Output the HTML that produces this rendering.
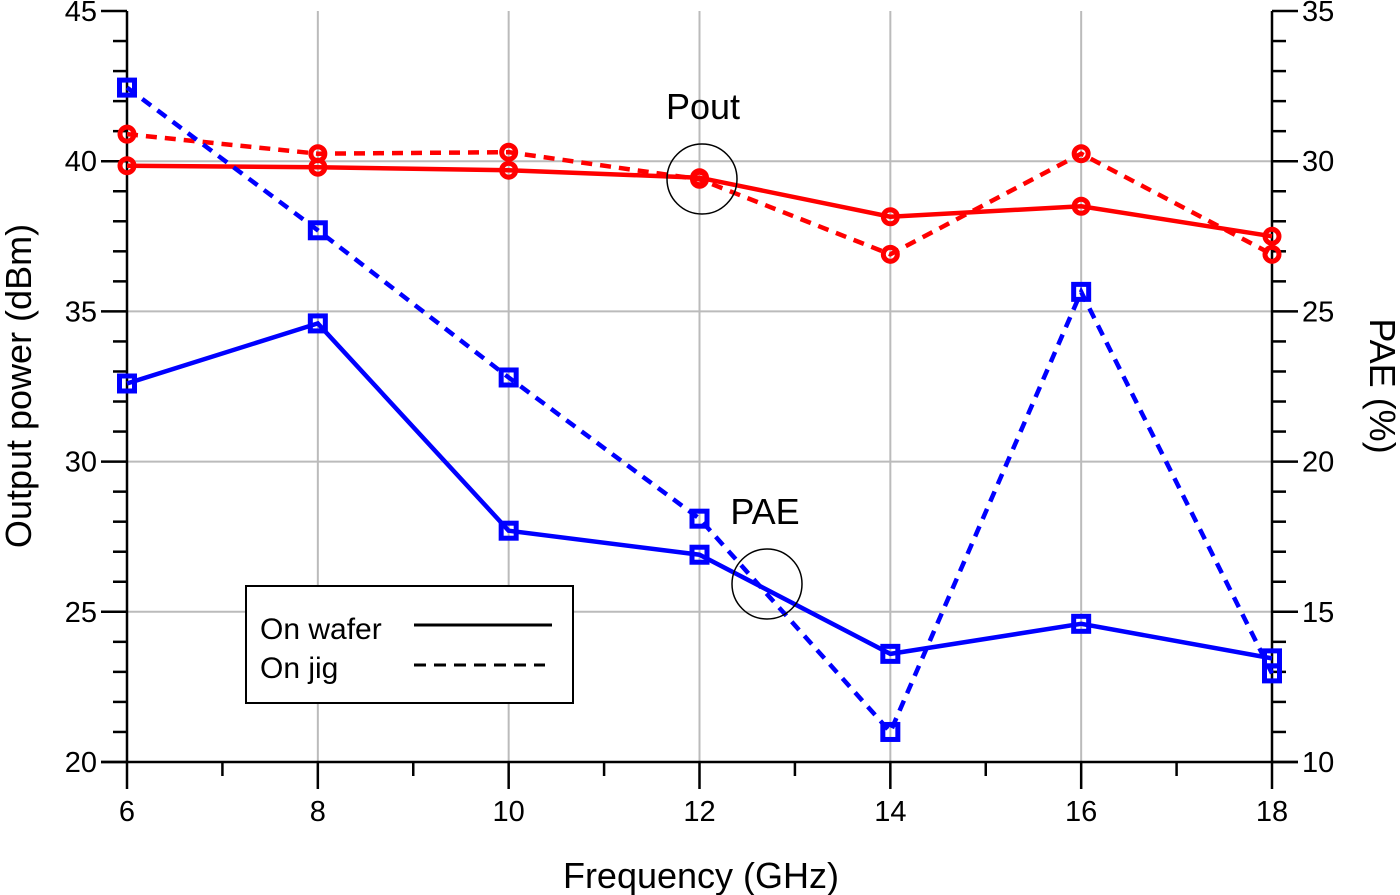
<!DOCTYPE html>
<html><head><meta charset="utf-8"><style>
html,body{margin:0;padding:0;background:#fff;}
svg{display:block;font-family:"Liberation Sans",Arial,sans-serif;}
</style></head><body>
<svg id="chart" width="1400" height="895" viewBox="0 0 1400 895"></svg>
<script>
const freqs=[6,8,10,12,14,16,18];
const poutWafer=[39.85,39.8,39.7,39.45,38.15,38.5,37.5];
const poutJig=[40.9,40.25,40.3,39.4,36.9,40.25,36.9];
const paeWafer=[22.6,24.6,17.7,16.9,13.6,14.6,13.45];
const paeJig=[32.45,27.7,22.8,18.1,11.0,25.65,12.95];
const xTicks=[6,8,10,12,14,16,18];
const yLeftTicks=[20,25,30,35,40,45];
const yRightTicks=[10,15,20,25,30,35];

const NS="http://www.w3.org/2000/svg";
const svg=document.getElementById('chart');
const X0=127,X1=1272,Y0=762,Y1=11;
const xs=v=>X0+(v-6)/12*(X1-X0);
const yl=v=>Y0-(v-20)/25*(Y0-Y1);
const yr=v=>Y0-(v-10)/25*(Y0-Y1);
function el(tag,attrs,parent){const e=document.createElementNS(NS,tag);for(const k in attrs)e.setAttribute(k,attrs[k]);(parent||svg).appendChild(e);return e;}

const grid=el('g',{});


xTicks.forEach(t=>{if(t>6&&t<18)el('line',{x1:xs(t),x2:xs(t),y1:Y1,y2:Y0,stroke:'#bbb','stroke-width':2},grid);});
yLeftTicks.forEach(t=>{if(t>20&&t<45)el('line',{x1:X0,x2:X1,y1:yl(t),y2:yl(t),stroke:'#bbb','stroke-width':2},grid);});

const axes=el('g',{stroke:'#000','stroke-width':2.5});


el('line',{x1:X0,x2:X0,y1:Y1,y2:Y0},axes);
el('line',{x1:X1,x2:X1,y1:Y1,y2:Y0},axes);
el('line',{x1:X0-26,x2:X1+26,y1:Y0,y2:Y0},axes);
for(let f=6;f<=18;f++){const maj=f%2===0;el('line',{x1:xs(f),x2:xs(f),y1:Y0,y2:Y0+(maj?27:14)},axes);}
for(let v=20;v<=45;v++){const maj=v%5===0;el('line',{x1:X0,x2:X0-(maj?26:14),y1:yl(v),y2:yl(v)},axes);}
for(let v=10;v<=35;v++){const maj=v%5===0;el('line',{x1:X1,x2:X1+(maj?26:14),y1:yr(v),y2:yr(v)},axes);}

xTicks.forEach(t=>{const e=el('text',{x:xs(t),y:Y0+59,'font-size':29,'text-anchor':'middle'});e.textContent=t;

});
yLeftTicks.forEach(t=>{const e=el('text',{x:X0-30,y:yl(t)+10,'font-size':29,'text-anchor':'end'});e.textContent=t;

});
yRightTicks.forEach(t=>{const e=el('text',{x:X1+30,y:yr(t)+10,'font-size':29,'text-anchor':'start'});e.textContent=t;

});

let t=el('text',{x:701,y:888,'font-size':36,'text-anchor':'middle'});t.textContent='Frequency (GHz)';


t=el('text',{x:0,y:0,'font-size':36,'text-anchor':'middle',transform:'translate(31,386) rotate(-90)'});t.textContent='Output power (dBm)';


t=el('text',{x:0,y:0,'font-size':36,'text-anchor':'middle',transform:'translate(1370,386) rotate(90)'});t.textContent='PAE (%)';



function series(vals,yf,color,dash,marker,name){
  const g=el('g',{});
  
  
  const pts=vals.map((v,i)=>xs(freqs[i])+','+yf(v)).join(' ');
  const a={points:pts,fill:'none',stroke:color,'stroke-width':4.5};
  if(dash)a['stroke-dasharray']='11,8';
  el('polyline',a,g);
  vals.forEach((v,i)=>{
    let m;
    if(marker==='c')m=el('circle',{cx:xs(freqs[i]),cy:yf(v),r:7,fill:'none',stroke:color,'stroke-width':5},g);
    else m=el('rect',{x:xs(freqs[i])-7.5,y:yf(v)-7.5,width:15,height:15,fill:'none',stroke:color,'stroke-width':5},g);
    
    
  });
}
series(poutWafer,yl,'#ff0000',false,'c','pout-wafer-series');
series(poutJig,yl,'#ff0000',true,'c','pout-jig-series');
series(paeWafer,yr,'#0000ff',false,'s','pae-wafer-series');
series(paeJig,yr,'#0000ff',true,'s','pae-jig-series');

let c=el('circle',{cx:702,cy:179,r:35,fill:'none',stroke:'#000','stroke-width':1.5});


t=el('text',{x:703,y:119,'font-size':36,'text-anchor':'middle'});t.textContent='Pout';


c=el('circle',{cx:767,cy:584,r:35,fill:'none',stroke:'#000','stroke-width':1.5});


t=el('text',{x:765,y:524,'font-size':36,'text-anchor':'middle'});t.textContent='PAE';



const lg=el('g',{});


el('rect',{x:246,y:586,width:327,height:117,fill:'#fff',stroke:'#000','stroke-width':2},lg);
t=el('text',{x:260,y:639,'font-size':30},lg);t.textContent='On wafer';


el('line',{x1:414,x2:552,y1:625,y2:625,stroke:'#000','stroke-width':3},lg);
t=el('text',{x:260,y:678,'font-size':30},lg);t.textContent='On jig';


el('line',{x1:414,x2:545,y1:665,y2:665,stroke:'#000','stroke-width':3,'stroke-dasharray':'12,8'},lg);
</script>
</body></html>
